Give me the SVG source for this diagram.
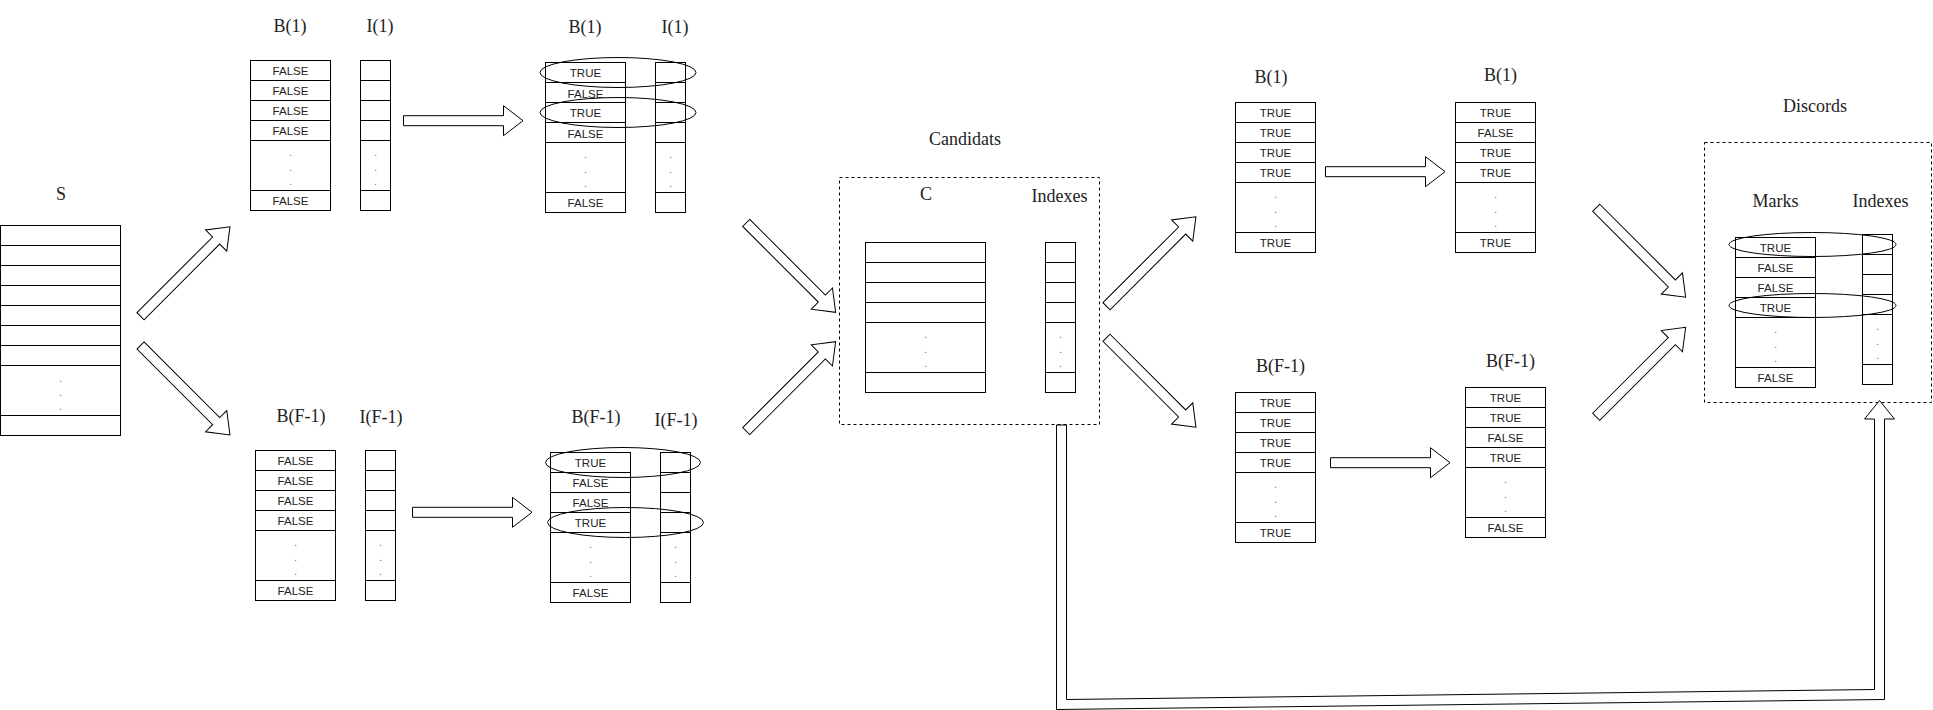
<svg xmlns="http://www.w3.org/2000/svg" width="1933" height="710" viewBox="0 0 1933 710">
  <style>
    .tbl rect, .tbl path { fill: #fff; stroke: #000; stroke-width: 1; }
    .tbl path { fill: none; }
    .v { font-family: "Liberation Sans", Arial, sans-serif; font-size: 11.5px; text-anchor: middle; fill: #222; }
    .dot { font-family: "Liberation Sans", Arial, sans-serif; font-size: 11px; text-anchor: middle; fill: #777; }
    .lbl { font-family: "Liberation Serif", "Times New Roman", serif; font-size: 18px; text-anchor: middle; fill: #222; }
    .mark { fill: none; stroke: #000; stroke-width: 1; }
    .frame { fill: none; stroke: #000; stroke-width: 1; stroke-dasharray: 3 3; }
    .arrow { fill: #fff; stroke: #000; stroke-width: 1; stroke-linejoin: miter; }
  </style>
  <defs>
    <!-- block arrow, 120 long, pointing along +x from the origin -->
    <path id="arrowH" d="M0,-5 H100 V-15 L119.5,0 L100,15 V5 H0 Z"/>
    <!-- block arrow, 126.5 long, used for the diagonal links -->
    <path id="arrowD" d="M0,-5 H107 V-15 L126.5,0 L107,15 V5 H0 Z"/>
  </defs>

  <rect width="1933" height="710" fill="#fff"/>

  <!-- S : input series -->
  <g id="S" class="tbl">
    <text class="lbl" x="61" y="200">S</text>
    <g transform="translate(0.5,225.5)">
      <rect x="0" y="0" width="120" height="210"/>
      <path d="M0,20H120M0,40H120M0,60H120M0,80H120M0,100H120M0,120H120M0,140H120M0,190H120"/>
      <text class="dot" x="60" y="156">.</text>
      <text class="dot" x="60" y="170">.</text>
      <text class="dot" x="60" y="184">.</text>
    </g>
  </g>

  <!-- first pass, feature 1 -->
  <g id="B1_init" class="tbl">
    <text class="lbl" x="290" y="32">B(1)</text>
    <g transform="translate(250.5,60.5)">
      <rect x="0" y="0" width="80" height="150"/>
      <path d="M0,20H80M0,40H80M0,60H80M0,80H80M0,130H80"/>
      <text class="v" x="40" y="14">FALSE</text>
      <text class="v" x="40" y="34">FALSE</text>
      <text class="v" x="40" y="54">FALSE</text>
      <text class="v" x="40" y="74">FALSE</text>
      <text class="dot" x="40" y="95">.</text>
      <text class="dot" x="40" y="110">.</text>
      <text class="dot" x="40" y="124">.</text>
      <text class="v" x="40" y="144">FALSE</text>
    </g>
  </g>
  <g id="I1_init" class="tbl">
    <text class="lbl" x="380" y="32">I(1)</text>
    <g transform="translate(360.5,60.5)">
      <rect x="0" y="0" width="30" height="150"/>
      <path d="M0,20H30M0,40H30M0,60H30M0,80H30M0,130H30"/>
      <text class="dot" x="15" y="95">.</text>
      <text class="dot" x="15" y="110">.</text>
      <text class="dot" x="15" y="124">.</text>
    </g>
  </g>

  <g id="B1_marked" class="tbl">
    <text class="lbl" x="585" y="33">B(1)</text>
    <g transform="translate(545.5,62.5)">
      <rect x="0" y="0" width="80" height="150"/>
      <path d="M0,20H80M0,40H80M0,60H80M0,80H80M0,130H80"/>
      <text class="v" x="40" y="14">TRUE</text>
      <text class="v" x="40" y="35">FALSE</text>
      <text class="v" x="40" y="54">TRUE</text>
      <text class="v" x="40" y="75">FALSE</text>
      <text class="dot" x="40" y="95">.</text>
      <text class="dot" x="40" y="110">.</text>
      <text class="dot" x="40" y="124">.</text>
      <text class="v" x="40" y="144">FALSE</text>
    </g>
  </g>
  <g id="I1_marked" class="tbl">
    <text class="lbl" x="675" y="33">I(1)</text>
    <g transform="translate(655.5,62.5)">
      <rect x="0" y="0" width="30" height="150"/>
      <path d="M0,20H30M0,40H30M0,60H30M0,80H30M0,130H30"/>
      <text class="dot" x="15" y="95">.</text>
      <text class="dot" x="15" y="110">.</text>
      <text class="dot" x="15" y="124">.</text>
    </g>
  </g>
  <g id="B1_hits">
    <ellipse class="mark" cx="618" cy="72.5" rx="78" ry="15"/>
    <ellipse class="mark" cx="618" cy="112.5" rx="78" ry="15"/>
  </g>

  <!-- first pass, feature F-1 -->
  <g id="BF_init" class="tbl">
    <text class="lbl" x="301" y="421.5">B(F-1)</text>
    <g transform="translate(255.5,450.5)">
      <rect x="0" y="0" width="80" height="150"/>
      <path d="M0,20H80M0,40H80M0,60H80M0,80H80M0,130H80"/>
      <text class="v" x="40" y="14">FALSE</text>
      <text class="v" x="40" y="34">FALSE</text>
      <text class="v" x="40" y="54">FALSE</text>
      <text class="v" x="40" y="74">FALSE</text>
      <text class="dot" x="40" y="95">.</text>
      <text class="dot" x="40" y="110">.</text>
      <text class="dot" x="40" y="124">.</text>
      <text class="v" x="40" y="144">FALSE</text>
    </g>
  </g>
  <g id="IF_init" class="tbl">
    <text class="lbl" x="381" y="423">I(F-1)</text>
    <g transform="translate(365.5,450.5)">
      <rect x="0" y="0" width="30" height="150"/>
      <path d="M0,20H30M0,40H30M0,60H30M0,80H30M0,130H30"/>
      <text class="dot" x="15" y="95">.</text>
      <text class="dot" x="15" y="110">.</text>
      <text class="dot" x="15" y="124">.</text>
    </g>
  </g>

  <g id="BF_marked" class="tbl">
    <text class="lbl" x="596" y="423">B(F-1)</text>
    <g transform="translate(550.5,452.5)">
      <rect x="0" y="0" width="80" height="150"/>
      <path d="M0,20H80M0,40H80M0,60H80M0,80H80M0,130H80"/>
      <text class="v" x="40" y="14">TRUE</text>
      <text class="v" x="40" y="34">FALSE</text>
      <text class="v" x="40" y="54">FALSE</text>
      <text class="v" x="40" y="74">TRUE</text>
      <text class="dot" x="40" y="95">.</text>
      <text class="dot" x="40" y="110">.</text>
      <text class="dot" x="40" y="124">.</text>
      <text class="v" x="40" y="144">FALSE</text>
    </g>
  </g>
  <g id="IF_marked" class="tbl">
    <text class="lbl" x="676" y="425.5">I(F-1)</text>
    <g transform="translate(660.5,452.5)">
      <rect x="0" y="0" width="30" height="150"/>
      <path d="M0,20H30M0,40H30M0,60H30M0,80H30M0,130H30"/>
      <text class="dot" x="15" y="95">.</text>
      <text class="dot" x="15" y="110">.</text>
      <text class="dot" x="15" y="124">.</text>
    </g>
  </g>
  <g id="BF_hits">
    <ellipse class="mark" cx="623" cy="462.5" rx="77.5" ry="15"/>
    <ellipse class="mark" cx="625.5" cy="522.5" rx="78" ry="15"/>
  </g>

  <!-- candidate set -->
  <g id="Candidats">
    <text class="lbl" x="965" y="145">Candidats</text>
    <rect class="frame" x="839.5" y="177.5" width="260" height="247"/>
    <text class="lbl" x="926" y="200">C</text>
    <text class="lbl" x="1059.5" y="201.5">Indexes</text>
    <g class="tbl" transform="translate(865.5,242.5)">
      <rect x="0" y="0" width="120" height="150"/>
      <path d="M0,20H120M0,40H120M0,60H120M0,80H120M0,130H120"/>
      <text class="dot" x="60" y="95">.</text>
      <text class="dot" x="60" y="110">.</text>
      <text class="dot" x="60" y="124">.</text>
    </g>
    <g class="tbl" transform="translate(1045.5,242.5)">
      <rect x="0" y="0" width="30" height="150"/>
      <path d="M0,20H30M0,40H30M0,60H30M0,80H30M0,130H30"/>
      <text class="dot" x="15" y="95">.</text>
      <text class="dot" x="15" y="110">.</text>
      <text class="dot" x="15" y="124">.</text>
    </g>
  </g>

  <!-- second pass, feature 1 -->
  <g id="B1_refine" class="tbl">
    <text class="lbl" x="1271" y="83">B(1)</text>
    <g transform="translate(1235.5,102.5)">
      <rect x="0" y="0" width="80" height="150"/>
      <path d="M0,20H80M0,40H80M0,60H80M0,80H80M0,130H80"/>
      <text class="v" x="40" y="14">TRUE</text>
      <text class="v" x="40" y="34">TRUE</text>
      <text class="v" x="40" y="54">TRUE</text>
      <text class="v" x="40" y="74">TRUE</text>
      <text class="dot" x="40" y="95">.</text>
      <text class="dot" x="40" y="110">.</text>
      <text class="dot" x="40" y="124">.</text>
      <text class="v" x="40" y="144">TRUE</text>
    </g>
  </g>
  <g id="B1_result" class="tbl">
    <text class="lbl" x="1500.5" y="80.5">B(1)</text>
    <g transform="translate(1455.5,102.5)">
      <rect x="0" y="0" width="80" height="150"/>
      <path d="M0,20H80M0,40H80M0,60H80M0,80H80M0,130H80"/>
      <text class="v" x="40" y="14">TRUE</text>
      <text class="v" x="40" y="34">FALSE</text>
      <text class="v" x="40" y="54">TRUE</text>
      <text class="v" x="40" y="74">TRUE</text>
      <text class="dot" x="40" y="95">.</text>
      <text class="dot" x="40" y="110">.</text>
      <text class="dot" x="40" y="124">.</text>
      <text class="v" x="40" y="144">TRUE</text>
    </g>
  </g>

  <!-- second pass, feature F-1 -->
  <g id="BF_refine" class="tbl">
    <text class="lbl" x="1280.5" y="371.5">B(F-1)</text>
    <g transform="translate(1235.5,392.5)">
      <rect x="0" y="0" width="80" height="150"/>
      <path d="M0,20H80M0,40H80M0,60H80M0,80H80M0,130H80"/>
      <text class="v" x="40" y="14">TRUE</text>
      <text class="v" x="40" y="34">TRUE</text>
      <text class="v" x="40" y="54">TRUE</text>
      <text class="v" x="40" y="74">TRUE</text>
      <text class="dot" x="40" y="95">.</text>
      <text class="dot" x="40" y="110">.</text>
      <text class="dot" x="40" y="124">.</text>
      <text class="v" x="40" y="144">TRUE</text>
    </g>
  </g>
  <g id="BF_result" class="tbl">
    <text class="lbl" x="1510.5" y="366.5">B(F-1)</text>
    <g transform="translate(1465.5,387.5)">
      <rect x="0" y="0" width="80" height="150"/>
      <path d="M0,20H80M0,40H80M0,60H80M0,80H80M0,130H80"/>
      <text class="v" x="40" y="14">TRUE</text>
      <text class="v" x="40" y="34">TRUE</text>
      <text class="v" x="40" y="54">FALSE</text>
      <text class="v" x="40" y="74">TRUE</text>
      <text class="dot" x="40" y="95">.</text>
      <text class="dot" x="40" y="110">.</text>
      <text class="dot" x="40" y="124">.</text>
      <text class="v" x="40" y="144">FALSE</text>
    </g>
  </g>

  <!-- final discords -->
  <g id="Discords">
    <text class="lbl" x="1815" y="111.5">Discords</text>
    <rect class="frame" x="1704.5" y="142.5" width="227" height="260"/>
    <text class="lbl" x="1775.5" y="206.5">Marks</text>
    <text class="lbl" x="1880.5" y="206.5">Indexes</text>
    <g class="tbl" transform="translate(1735.5,237.5)">
      <rect x="0" y="0" width="80" height="150"/>
      <path d="M0,20H80M0,40H80M0,60H80M0,80H80M0,130H80"/>
      <text class="v" x="40" y="14">TRUE</text>
      <text class="v" x="40" y="34">FALSE</text>
      <text class="v" x="40" y="54">FALSE</text>
      <text class="v" x="40" y="74">TRUE</text>
      <text class="dot" x="40" y="95">.</text>
      <text class="dot" x="40" y="110">.</text>
      <text class="dot" x="40" y="124">.</text>
      <text class="v" x="40" y="144">FALSE</text>
    </g>
    <g class="tbl" transform="translate(1862.5,234.5)">
      <rect x="0" y="0" width="30" height="150"/>
      <path d="M0,20H30M0,40H30M0,60H30M0,80H30M0,130H30"/>
      <text class="dot" x="15" y="95">.</text>
      <text class="dot" x="15" y="110">.</text>
      <text class="dot" x="15" y="124">.</text>
    </g>
    <ellipse class="mark" cx="1812.5" cy="244.5" rx="83.5" ry="12"/>
    <ellipse class="mark" cx="1812.5" cy="305.5" rx="83.5" ry="12"/>
  </g>

  <!-- connectors -->
  <g id="connectors" class="arrow">
    <use href="#arrowD" transform="translate(140.5,316.2) rotate(-45)"/>
    <use href="#arrowD" transform="translate(140.5,345.5) rotate(45)"/>
    <use href="#arrowH" transform="translate(403.5,120.7)"/>
    <use href="#arrowH" transform="translate(412.5,512.3)"/>
    <use href="#arrowD" transform="translate(746.2,222.9) rotate(45)"/>
    <use href="#arrowD" transform="translate(746.2,431.1) rotate(-45)"/>
    <use href="#arrowD" transform="translate(1106.5,306.2) rotate(-45)"/>
    <use href="#arrowD" transform="translate(1106.5,337.8) rotate(45)"/>
    <use href="#arrowH" transform="translate(1325.5,171.7)"/>
    <use href="#arrowH" transform="translate(1330.5,462.7)"/>
    <use href="#arrowD" transform="translate(1596.2,207.8) rotate(45)"/>
    <use href="#arrowD" transform="translate(1596.2,416.8) rotate(-45)"/>
    <!-- feedback from the candidate indexes to the discord indexes -->
    <path d="M1056.5,425 V709.5 L1884.5,699.5 V419 H1894.5 L1879.5,400.5 L1864.5,419 H1874.5 V689.5 L1066.5,699.5 V425 Z"/>
  </g>
</svg>
